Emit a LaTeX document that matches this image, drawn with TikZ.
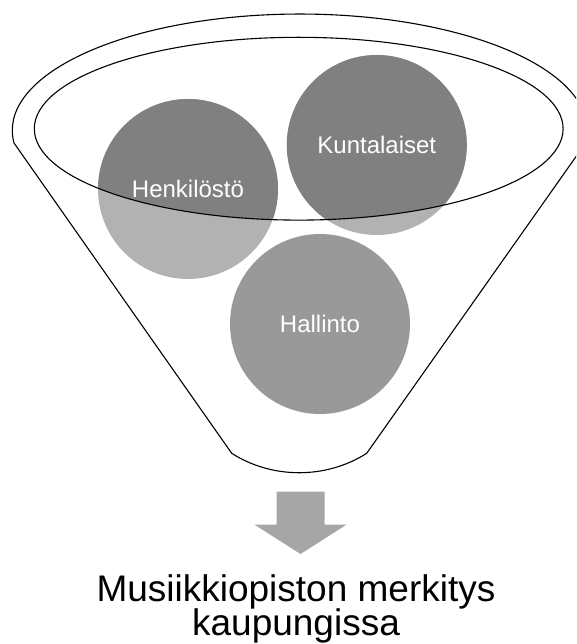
\documentclass[tikz,border=0pt]{standalone}
\usepackage{fontspec}
\setmainfont{Liberation Sans}
\definecolor{balldark}{RGB}{128,128,128}
\definecolor{balllight}{RGB}{178,178,178}
\definecolor{ballmid}{RGB}{153,153,153}
\definecolor{arrowgray}{RGB}{166,166,166}
\begin{document}
\begin{tikzpicture}[x=1pt,y=-1pt,
  funnel/.style={draw=black,line width=1.1pt,line join=round},
  ball/.style={circle,minimum size=180pt,inner sep=0pt,text=white,font=\fontsize{24}{28}\selectfont},
  titletext/.style={anchor=base,text=black,inner sep=0pt,font=\fontsize{37}{40}\selectfont}]
\useasboundingbox (0,0) rectangle (576,644);
\clip (0,0) rectangle (576,644);
% funnel body
\draw[funnel] (14,143) arc[start angle=173.8,end angle=366.2,x radius=287.5,y radius=116.4]
  -- (366.7,453.3) .. controls (326.1,479.2) and (272.3,479.2) .. (231.7,453.3) -- cycle;
% balls
\fill[balllight] (188,189) circle[radius=90];
\fill[balllight] (376.8,145) circle[radius=90];
\fill[ballmid] (320,324) circle[radius=90];
\begin{scope}
  \clip (298.7,128.7) ellipse[x radius=264.4,y radius=91.4];
  \fill[balldark] (188,189) circle[radius=90];
  \fill[balldark] (376.8,145) circle[radius=90];
\end{scope}
% funnel mouth
\draw[funnel] (298.7,128.7) ellipse[x radius=264.4,y radius=91.4];
% labels
\node[ball] (henk) at (188,189) {Henkilöstö};
\node[ball] (kunta) at (376.8,145) {Kuntalaiset};
\node[ball] (hall) at (320,324) {Hallinto};
% arrow
\fill[arrowgray] (276.5,491.7) -- (324.7,491.7) -- (324.7,524.5) -- (346.7,524.5)
  -- (300.5,554) -- (254.3,524.5) -- (276.5,524.5) -- cycle;
% result text
\node[titletext] (res1) at (296,601.5) {Musiikkiopiston merkitys};
\node[titletext] (res2) at (296,635.5) {kaupungissa};
\end{tikzpicture}
\end{document}
